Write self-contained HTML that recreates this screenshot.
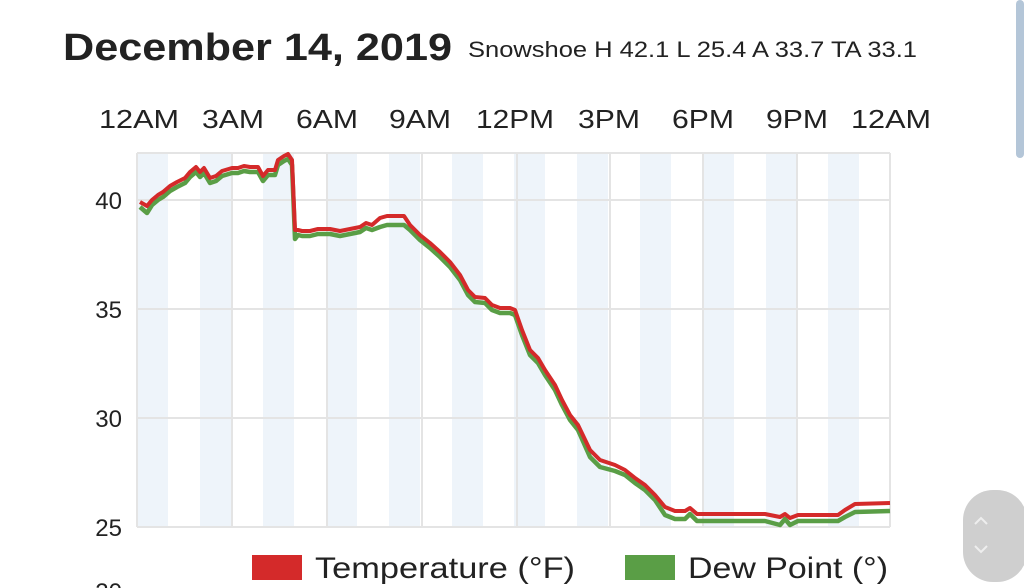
<!DOCTYPE html>
<html><head><meta charset="utf-8"><style>
html,body{margin:0;padding:0;background:#fff;width:1024px;height:588px;overflow:hidden}
svg{display:block}
text{font-family:"Liberation Sans",sans-serif;fill:#222}
</style></head><body>
<svg width="1024" height="588" viewBox="0 0 1024 588">
<rect x="1016" y="0" width="8" height="158" rx="4" fill="#b4c6d8"/>
<text x="63" y="60" font-size="38" font-weight="bold" textLength="389" lengthAdjust="spacingAndGlyphs">December 14, 2019</text>
<text x="468" y="57" font-size="22" textLength="449" lengthAdjust="spacingAndGlyphs">Snowshoe H 42.1 L 25.4 A 33.7 TA 33.1</text>
<g font-size="26" text-anchor="middle">
<text x="139" y="128" textLength="80" lengthAdjust="spacingAndGlyphs">12AM</text>
<text x="233" y="128" textLength="62" lengthAdjust="spacingAndGlyphs">3AM</text>
<text x="327" y="128" textLength="62" lengthAdjust="spacingAndGlyphs">6AM</text>
<text x="420" y="128" textLength="62" lengthAdjust="spacingAndGlyphs">9AM</text>
<text x="515" y="128" textLength="78" lengthAdjust="spacingAndGlyphs">12PM</text>
<text x="609" y="128" textLength="62" lengthAdjust="spacingAndGlyphs">3PM</text>
<text x="703" y="128" textLength="62" lengthAdjust="spacingAndGlyphs">6PM</text>
<text x="797" y="128" textLength="62" lengthAdjust="spacingAndGlyphs">9PM</text>
<text x="891" y="128" textLength="80" lengthAdjust="spacingAndGlyphs">12AM</text>
</g>
<g fill="#eef4fa">
<rect x="138" y="153" width="30" height="375"/>
<rect x="200" y="153" width="31" height="375"/>
<rect x="263" y="153" width="31" height="375"/>
<rect x="326" y="153" width="31" height="375"/>
<rect x="389" y="153" width="31" height="375"/>
<rect x="452" y="153" width="31" height="375"/>
<rect x="514" y="153" width="31" height="375"/>
<rect x="577" y="153" width="31" height="375"/>
<rect x="640" y="153" width="31" height="375"/>
<rect x="703" y="153" width="31" height="375"/>
<rect x="766" y="153" width="31" height="375"/>
<rect x="828" y="153" width="31" height="375"/>
</g>
<g stroke="#e4e4e4" stroke-width="2" fill="none">
<line x1="137" y1="153" x2="890" y2="153"/>
<line x1="137" y1="200" x2="890" y2="200"/>
<line x1="137" y1="309" x2="890" y2="309"/>
<line x1="137" y1="418" x2="890" y2="418"/>
<line x1="137" y1="527" x2="890" y2="527"/>
<line x1="137" y1="153" x2="137" y2="527"/>
<line x1="232" y1="153" x2="232" y2="527"/>
<line x1="327" y1="153" x2="327" y2="527"/>
<line x1="422" y1="153" x2="422" y2="527"/>
<line x1="517" y1="153" x2="517" y2="527"/>
<line x1="610" y1="153" x2="610" y2="527"/>
<line x1="703" y1="153" x2="703" y2="527"/>
<line x1="797" y1="153" x2="797" y2="527"/>
<line x1="890" y1="153" x2="890" y2="527"/>
</g>
<g font-size="24" text-anchor="end">
<text x="122" y="209">40</text>
<text x="122" y="318">35</text>
<text x="122" y="427">30</text>
<text x="122" y="536">25</text>
<text x="122" y="600">20</text>
</g>
<g fill="none" stroke-width="4.5" stroke-linejoin="round">
<polyline stroke="#5a9e46" transform="translate(0,5)" points="140,202 147,208 152,200 158,195 163,192 170,186 177,182 185,178 190,172 196,167 200,172 204,168 210,178 216,176 222,171 232,168 238,168 244,166 250,167 258,167 263,176 268,170 275,170 278,160 284,156 288,154 292,160 295,234 298,230 302,231 310,231 318,229 330,229 340,231 350,229 360,227 366,223 372,225 380,222 387,220 404,220 410,225 420,235 430,243 440,252 450,262 460,275 468,290 475,297 485,298 492,305 500,308 510,308 515,310 522,330 530,350 538,358 545,370 555,385 562,400 570,415 578,425 590,452 600,462 615,466 625,470 635,478 645,485 655,495 665,510 675,514 685,514 690,509 697,516 765,516 780,520 785,514 790,520 798,516 838,516 845,512 855,507 890,506"/>
<polyline stroke="#d42a2a" stroke-width="4" points="140,202 147,206 152,200 158,195 163,192 170,186 177,182 185,178 190,172 196,167 200,172 204,168 210,178 216,176 222,171 232,168 238,168 244,166 250,167 258,167 263,176 268,170 275,170 278,160 284,156 288,154 292,160 295,230 298,230 302,231 310,231 318,229 330,229 340,231 350,229 360,227 366,223 372,225 380,218 387,216 404,216 410,225 420,235 430,243 440,252 450,262 460,275 468,290 475,297 485,298 492,305 500,308 510,308 515,310 522,330 530,350 538,358 545,370 555,385 562,400 570,415 578,425 590,450 600,460 615,465 625,470 635,478 645,485 655,495 665,507 675,511 685,511 690,508 697,514 765,514 780,517 785,514 790,518 798,515 838,515 845,510 855,504 890,503"/>
</g>
<rect x="252" y="555" width="50" height="25" fill="#d42a2a"/>
<text x="315" y="578" font-size="30" textLength="260" lengthAdjust="spacingAndGlyphs">Temperature (°F)</text>
<rect x="625" y="555" width="50" height="25" fill="#5a9e46"/>
<text x="688" y="578" font-size="30" textLength="200" lengthAdjust="spacingAndGlyphs">Dew Point (°)</text>
<rect x="963" y="490" width="64" height="92" rx="30" fill="#cfcfcf"/>
<polyline points="975,524 981,518 987,524" fill="none" stroke="#eee" stroke-width="2"/>
<polyline points="975,546 981,552 987,546" fill="none" stroke="#eee" stroke-width="2"/>
</svg>
</body></html>
